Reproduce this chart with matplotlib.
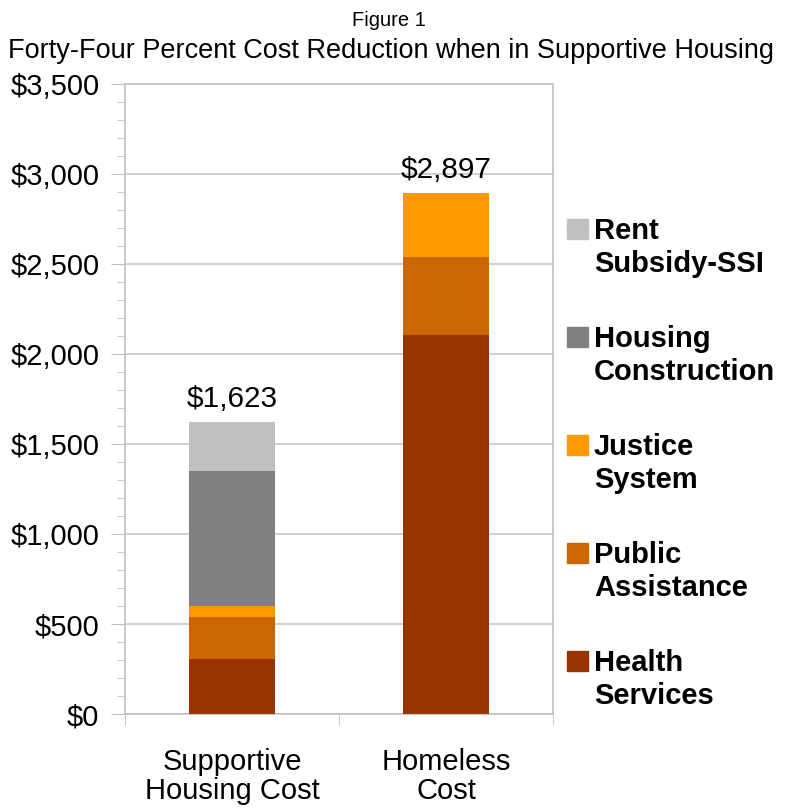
import matplotlib
matplotlib.use("Agg")
import matplotlib.pyplot as plt
from matplotlib.ticker import MultipleLocator, FuncFormatter
from matplotlib.patches import Rectangle

plt.rcParams['font.family'] = ['Liberation Sans', 'DejaVu Sans']

categories = ["Supportive\nHousing Cost", "Homeless\nCost"]
series_names = ["Health\nServices", "Public\nAssistance", "Justice\nSystem",
                "Housing\nConstruction", "Rent\nSubsidy-SSI"]
health = [307, 2107]
public_assist = [234, 434]
justice = [61, 356]
housing = [750, 0]
rent = [271, 0]
totals = [1623, 2897]
colors = ["#993300", "#CC6600", "#FF9900", "#808080", "#C0C0C0"]

series = [health, public_assist, justice, housing, rent]

fig = plt.figure(figsize=(7.88, 8.08), dpi=100)
ax = fig.add_axes([125 / 788, 1 - 714.3 / 808, 428 / 788, 630.3 / 808])

x = [0, 1]
bottom = [0, 0]
for vals, col in zip(series, colors):
    ax.bar(x, vals, width=0.4, bottom=bottom, color=col, edgecolor='none', zorder=3)
    bottom = [b + v for b, v in zip(bottom, vals)]

for xi, t in zip(x, totals):
    ax.text(xi, t + 83, f"${t:,}", ha='center', va='baseline', fontsize=21.4)

ax.set_xlim(-0.5, 1.5)
ax.set_ylim(0, 3500)
ax.yaxis.set_major_locator(MultipleLocator(500))
ax.yaxis.set_minor_locator(MultipleLocator(100))
ax.yaxis.set_major_formatter(FuncFormatter(lambda v, p: f"${v:,.0f}"))
ax.grid(axis='y', which='major', color='#c8c8c8', linewidth=1.2, zorder=0)
ax.tick_params(axis='y', which='major', length=10, color='#c0c0c0', labelsize=21, pad=8.5)
ax.tick_params(axis='y', which='minor', length=6, color='#c0c0c0')

ax.set_xticks(x)
ax.set_xticklabels(categories, fontsize=21, linespacing=1.08)
ax.set_xticks([-0.5, 0.5, 1.5], minor=True)
ax.tick_params(axis='x', which='major', length=0, pad=24)
ax.tick_params(axis='x', which='minor', length=8, color='#c0c0c0')

for s in ax.spines.values():
    s.set_color('#c0c0c0')
    s.set_linewidth(1.2)

# legend, top entry first; text baseline refers to the second line
legend_top = 219
for i, (name, col) in enumerate(zip(reversed(series_names), reversed(colors))):
    y_px = legend_top + i * 108
    fig.patches.append(Rectangle((567 / 788, 1 - (y_px + 20) / 808), 21 / 788, 20 / 808,
                                 transform=fig.transFigure, color=col))
    fig.text(594 / 788, 1 - (y_px + 53) / 808, name, fontsize=21, fontweight='bold',
             ha='left', va='baseline', linespacing=1.24)

fig.text(389 / 788, 1 - 26 / 808, "Figure 1", ha='center', va='baseline', fontsize=14.5)
fig.text(391 / 788, 1 - 58 / 808, "Forty-Four Percent Cost Reduction when in Supportive Housing",
         ha='center', va='baseline', fontsize=19.5)

fig.savefig("out.png", dpi=100)
